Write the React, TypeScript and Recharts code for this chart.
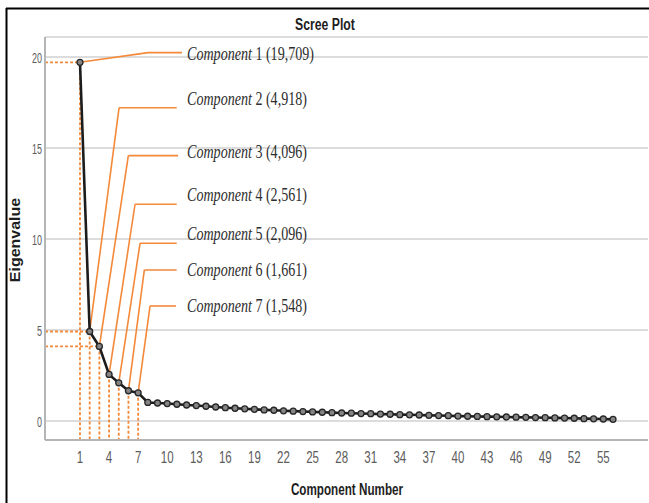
import React from 'react';
import { LineChart, Line, XAxis, YAxis, CartesianGrid, ReferenceLine, ReferenceDot } from 'recharts';

// ---- data ----
const componentNumbers = Array.from({ length: 56 }, (_, i) => i + 1);
const eigenvalues = [
  19.709, 4.918, 4.096, 2.561, 2.096, 1.661, 1.548,
  1.02, 0.99, 0.96, 0.92, 0.88, 0.85, 0.81, 0.77, 0.73, 0.70, 0.67, 0.64, 0.61,
  0.59, 0.56, 0.54, 0.52, 0.50, 0.48, 0.46, 0.44, 0.43, 0.41, 0.40, 0.38, 0.37,
  0.35, 0.34, 0.33, 0.31, 0.30, 0.29, 0.27, 0.26, 0.25, 0.24, 0.23, 0.22, 0.21,
  0.20, 0.19, 0.18, 0.17, 0.16, 0.15, 0.13, 0.12, 0.11, 0.09,
];
const xTicks = [1, 4, 7, 10, 13, 16, 19, 22, 25, 28, 31, 34, 37, 40, 43, 46, 49, 52, 55];
const yTicks = [0, 5, 10, 15, 20];
const annotatedComponents = [1, 2, 3, 4, 5, 6, 7];
const annotationValues = ['19,709', '4,918', '4,096', '2,561', '2,096', '1,661', '1,548'];
const horizontalGuides = [1, 2, 3];

// annotation anchors (data units)
const leaderElbowX = [8.02, 5.03, 5.99, 6.68, 7.2, 7.64, 8.23];
const leaderElbowY = [20.24, 17.21, 14.58, 11.91, 9.77, 8.3, 6.32];
const leaderEndX = [11.53, 10.98, 11.12, 10.98, 10.98, 10.98, 10.91];
const labelBaselineY = [19.84, 17.36, 14.45, 12.09, 9.95, 7.97, 5.99];
const labelStartX = 12.05;

const X_DOMAIN: [number, number] = [-2.61, 59.61];
const Y_DOMAIN: [number, number] = [-1.044, 21.1];

const data = componentNumbers.map((c, i) => ({ component: c, eigen: eigenvalues[i] }));

const ORANGE = '#F4893A';
const SANS = '"Liberation Sans", Arial, sans-serif';
const SERIF = '"Liberation Serif", "Times New Roman", serif';

const XTick = (props: any) => {
  const { x, y, payload } = props;
  return (
    <g transform={`translate(${x},${y})`}>
      <text x={0} y={0} dy={23.5} transform="scale(0.72,1)" textAnchor="middle" fontSize={16} fill="#5c5c5c" fontFamily={SANS}>
        {payload.value}
      </text>
    </g>
  );
};

const YTick = (props: any) => {
  const { x, y, payload } = props;
  return (
    <g transform={`translate(${x},${y})`}>
      <text x={0} y={0} dy={5.5} transform="scale(0.64,1)" textAnchor="end" fontSize={14} fill="#5c5c5c" fontFamily={SANS}>
        {payload.value}
      </text>
    </g>
  );
};

const makeLabelShape = (idx: number) => (props: any) => {
  const { cx, cy } = props;
  return (
    <g transform={`translate(${cx},${cy}) scale(0.76,1)`}>
      <text x={0} y={0} fontSize={18.5} fill="#2e2e2e" fontFamily={SERIF}>
        <tspan fontStyle="italic">Component</tspan>
        <tspan>{` ${annotatedComponents[idx]} (${annotationValues[idx]})`}</tspan>
      </text>
    </g>
  );
};

export default function App() {
  return (
    <div style={{ position: 'absolute', left: 0, top: 0, width: 649, height: 503 }}>
      <LineChart width={649} height={503} data={data} margin={{ top: 37, right: 1, bottom: 33, left: 0 }}>
        <CartesianGrid horizontal vertical={false} stroke="#dcdcdc" strokeWidth={2} />
        <XAxis
          type="number"
          dataKey="component"
          domain={X_DOMAIN}
          ticks={xTicks}
          interval={0}
          allowDataOverflow
          tickLine={false}
          tickSize={0}
          tickMargin={0}
          height={30}
          axisLine={{ stroke: '#b5b5b5', strokeWidth: 2 }}
          tick={<XTick />}
        />
        <YAxis
          type="number"
          domain={Y_DOMAIN}
          ticks={yTicks}
          interval={0}
          allowDataOverflow
          tickLine={false}
          tickSize={0}
          tickMargin={3}
          width={45}
          axisLine={{ stroke: '#b5b5b5', strokeWidth: 2 }}
          tick={<YTick />}
        />
        {annotatedComponents.map((c, i) => (
          <ReferenceLine
            key={`v${c}`}
            segment={[{ x: c, y: eigenvalues[i] }, { x: c, y: Y_DOMAIN[0] }]}
            stroke={ORANGE}
            strokeWidth={1.8}
            strokeDasharray="3 2"
          />
        ))}
        {horizontalGuides.map((c) => (
          <ReferenceLine
            key={`h${c}`}
            segment={[{ x: X_DOMAIN[0], y: eigenvalues[c - 1] }, { x: c, y: eigenvalues[c - 1] }]}
            stroke={ORANGE}
            strokeWidth={1.8}
            strokeDasharray="3 2"
          />
        ))}
        {annotatedComponents.map((c, i) => (
          <ReferenceLine
            key={`l1${c}`}
            segment={[{ x: c, y: eigenvalues[i] }, { x: leaderElbowX[i], y: leaderElbowY[i] }]}
            stroke={ORANGE}
            strokeWidth={1.6}
          />
        ))}
        {annotatedComponents.map((c, i) => (
          <ReferenceLine
            key={`l2${c}`}
            segment={[{ x: leaderElbowX[i], y: leaderElbowY[i] }, { x: leaderEndX[i], y: leaderElbowY[i] }]}
            stroke={ORANGE}
            strokeWidth={1.6}
          />
        ))}
        {annotatedComponents.map((c, i) => (
          <ReferenceDot key={`t${c}`} x={labelStartX} y={labelBaselineY[i]} r={1} shape={makeLabelShape(i)} />
        ))}
        <Line
          type="linear"
          dataKey="eigen"
          stroke="#1c1c1c"
          strokeWidth={2.6}
          dot={{ r: 3, fill: '#858585', stroke: '#262626', strokeWidth: 1.3 }}
          isAnimationActive={false}
        />
      </LineChart>
      <svg width={649} height={503} style={{ position: 'absolute', left: 0, top: 0, pointerEvents: 'none' }}>
        <line x1={6} y1={8.5} x2={649} y2={8.5} stroke="#000" strokeWidth={2} />
        <line x1={6.5} y1={8} x2={6.5} y2={503} stroke="#000" strokeWidth={2} />
        <g transform="translate(325,30) scale(0.72,1)">
          <text textAnchor="middle" fontSize={17} fontWeight="bold" fill="#1e1e1e" fontFamily={SANS}>Scree Plot</text>
        </g>
        <g transform="translate(347,494.5) scale(0.73,1)">
          <text textAnchor="middle" fontSize={16} fontWeight="bold" fill="#1e1e1e" fontFamily={SANS}>Component Number</text>
        </g>
        <g transform="translate(20,240) rotate(-90) scale(1,0.88)">
          <text textAnchor="middle" fontSize={16} fontWeight="bold" fill="#1e1e1e" fontFamily={SANS}>Eigenvalue</text>
        </g>
      </svg>
    </div>
  );
}
